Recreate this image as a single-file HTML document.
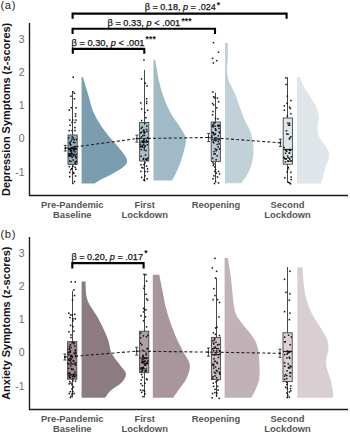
<!DOCTYPE html>
<html><head><meta charset="utf-8"><style>
html,body{margin:0;padding:0;background:#fff;width:350px;height:434px;overflow:hidden}
svg{display:block}
text{font-family:"Liberation Sans",sans-serif}
.tk{font-size:10.5px;fill:#6e6e6e}
.cat{font-size:9.4px;font-weight:bold;fill:#555}
.st{font-size:9.7px;fill:#111;stroke:#111;stroke-width:0.25}
.star{font-size:8.5px;font-weight:bold;fill:#111;letter-spacing:0.15px}
.yl{font-size:10.95px;font-weight:bold;fill:#111}
.pl{font-size:11.2px;fill:#222;letter-spacing:0.7px}
</style></head><body>
<svg width="350" height="434" viewBox="0 0 350 434">
<text x="0.4" y="9.1" class="pl">(a)</text>
<text x="0.4" y="237.8" class="pl">(b)</text>
<text transform="translate(10.1,109.4) rotate(-90)" text-anchor="middle" class="yl">Depression Symptoms (z-scores)</text>
<text transform="translate(10.1,323.2) rotate(-90)" text-anchor="middle" class="yl">Anxiety Symptoms (z-scores)</text>
<path d="M81.6,76.9 L83.0,76.9 C83.5,78.5 84.7,83.1 85.7,86.6 C86.7,90.0 87.8,93.4 89.0,97.6 C90.2,101.8 91.2,106.9 93.2,111.5 C95.2,116.1 97.7,120.7 100.7,125.3 C103.7,129.9 107.8,134.9 111.2,139.1 C114.6,143.2 118.3,146.7 120.9,150.2 C123.5,153.7 126.5,157.1 127.0,159.9 C127.5,162.7 126.0,164.5 123.6,166.8 C121.2,169.1 116.3,171.6 112.6,173.7 C108.9,175.8 104.5,177.6 101.5,179.2 C98.5,180.8 95.8,182.7 94.6,183.4 L81.6,183.4 Z" fill="#7a9db0"/>
<path d="M153.5,59.7 L155.1,59.7 C155.8,63.5 157.8,75.8 159.3,82.3 C160.8,88.8 162.1,93.0 164.1,98.4 C166.1,103.8 168.8,109.7 171.5,114.5 C174.2,119.3 177.9,123.4 180.3,127.4 C182.7,131.4 185.3,134.9 185.9,138.7 C186.5,142.5 185.0,146.0 184.1,150.0 C183.2,154.0 181.8,158.9 180.3,162.9 C178.9,166.9 176.8,171.2 175.4,174.2 C174.1,177.1 172.7,179.5 172.2,180.6 L153.5,180.6 Z" fill="#a0bac7"/>
<path d="M225.0,42.9 L227.9,42.9 C227.9,45.1 228.0,51.8 227.9,56.4 C227.8,61.0 226.9,66.5 227.1,70.7 C227.3,74.9 227.7,77.8 228.9,81.4 C230.1,85.0 232.5,87.9 234.3,92.1 C236.1,96.3 237.8,101.6 239.6,106.4 C241.4,111.2 243.2,116.5 245.0,120.7 C246.8,124.9 249.1,127.8 250.4,131.4 C251.7,135.0 252.4,137.9 252.9,142.1 C253.4,146.3 253.8,151.6 253.2,156.4 C252.6,161.2 251.3,166.2 249.3,170.7 C247.3,175.2 242.7,181.1 241.4,183.2 L225.0,183.2 Z" fill="#c1d1da"/>
<path d="M296.9,76.9 L299.7,76.9 C300.4,78.5 302.0,83.1 303.8,86.6 C305.6,90.0 308.6,94.1 310.7,97.6 C312.8,101.0 314.9,104.1 316.3,107.3 C317.7,110.5 318.8,113.8 319.0,117.0 C319.2,120.2 317.6,123.5 317.6,126.7 C317.6,129.9 317.8,133.4 319.0,136.4 C320.2,139.4 323.0,142.1 324.6,144.6 C326.2,147.1 328.0,149.3 328.7,151.6 C329.4,153.9 329.2,156.0 328.7,158.5 C328.2,161.0 326.5,164.0 325.6,166.8 C324.7,169.6 324.1,172.3 323.3,175.1 C322.5,177.9 321.2,182.0 320.8,183.4 L296.9,183.4 Z" fill="#dee6e9"/>
<path d="M81.6,281.6 L85.5,281.6 C85.7,284.0 85.7,292.1 86.4,296.0 C87.1,299.9 88.0,301.5 89.8,305.0 C91.6,308.5 95.2,313.0 97.5,317.0 C99.8,321.0 101.7,325.0 103.5,329.0 C105.3,333.0 107.2,337.0 108.5,341.0 C109.8,345.0 109.6,348.9 111.5,352.9 C113.4,356.9 117.6,361.4 120.0,364.9 C122.4,368.4 125.8,370.9 126.0,373.9 C126.2,376.9 123.9,380.1 121.4,382.8 C118.9,385.5 113.7,387.8 111.0,390.3 C108.3,392.8 106.0,396.6 105.0,397.8 L81.6,397.8 Z" fill="#8d7b82"/>
<path d="M152.8,274.7 L159.3,274.7 C159.8,277.4 161.4,285.4 162.5,290.8 C163.6,296.2 164.3,301.5 165.7,306.9 C167.0,312.3 168.7,317.6 170.6,323.0 C172.5,328.4 174.8,334.4 177.0,339.2 C179.2,344.0 181.3,347.7 183.5,352.0 C185.7,356.3 189.4,360.7 189.9,365.0 C190.4,369.3 188.3,374.1 186.7,377.9 C185.1,381.7 182.6,384.3 180.3,387.6 C178.1,390.9 174.4,396.1 173.2,397.8 L152.8,397.8 Z" fill="#a9969c"/>
<path d="M224.6,257.9 L227.9,257.9 C228.2,260.1 229.3,266.8 230.0,271.4 C230.7,276.0 231.2,280.3 231.8,285.7 C232.4,291.1 232.9,298.8 233.6,303.6 C234.3,308.4 234.4,310.7 236.0,314.3 C237.6,317.9 240.5,321.4 243.2,325.0 C245.9,328.6 249.6,332.1 252.0,335.7 C254.4,339.3 256.3,342.2 257.5,346.4 C258.7,350.6 259.0,355.3 259.3,360.7 C259.6,366.1 259.9,373.8 259.3,378.6 C258.7,383.4 257.0,386.1 255.7,389.3 C254.4,392.5 252.1,396.4 251.4,397.8 L224.6,397.8 Z" fill="#c0b2b7"/>
<path d="M297.3,267.3 L302.7,267.3 C302.9,270.5 303.3,281.2 304.0,286.7 C304.7,292.1 305.4,295.6 306.7,300.0 C308.0,304.4 309.5,308.9 311.7,313.3 C313.9,317.8 317.4,322.2 320.0,326.7 C322.6,331.1 325.9,336.1 327.3,340.0 C328.7,343.9 328.5,346.7 328.3,350.0 C328.1,353.3 326.2,356.7 326.0,360.0 C325.8,363.3 326.5,366.7 327.3,370.0 C328.1,373.3 329.8,376.4 330.7,380.0 C331.6,383.6 332.5,388.7 332.9,391.7 C333.3,394.7 332.9,396.8 332.9,397.8 L297.3,397.8 Z" fill="#d9ced2"/>
<path d="M29.5,23 V195.5 H348" fill="none" stroke="#1a1a1a" stroke-width="1.4"/>
<text x="24.5" y="42.8" text-anchor="end" class="tk">3</text>
<text x="24.5" y="76.4" text-anchor="end" class="tk">2</text>
<text x="24.5" y="108.8" text-anchor="end" class="tk">1</text>
<text x="24.5" y="142.1" text-anchor="end" class="tk">0</text>
<text x="24.5" y="175.9" text-anchor="end" class="tk">-1</text>
<text x="72.3" y="208.3" text-anchor="middle" class="cat">Pre-Pandemic</text>
<text x="72.3" y="217.5" text-anchor="middle" class="cat">Baseline</text>
<text x="144.7" y="208.3" text-anchor="middle" class="cat">First</text>
<text x="144.7" y="217.5" text-anchor="middle" class="cat">Lockdown</text>
<text x="216" y="208.3" text-anchor="middle" class="cat">Reopening</text>
<text x="287.5" y="208.3" text-anchor="middle" class="cat">Second</text>
<text x="287.5" y="217.5" text-anchor="middle" class="cat">Lockdown</text>
<path d="M29.5,237 V409.5 H348" fill="none" stroke="#1a1a1a" stroke-width="1.4"/>
<text x="24.5" y="256.8" text-anchor="end" class="tk">3</text>
<text x="24.5" y="290.4" text-anchor="end" class="tk">2</text>
<text x="24.5" y="322.8" text-anchor="end" class="tk">1</text>
<text x="24.5" y="356.1" text-anchor="end" class="tk">0</text>
<text x="24.5" y="389.9" text-anchor="end" class="tk">-1</text>
<text x="72.3" y="422.3" text-anchor="middle" class="cat">Pre-Pandemic</text>
<text x="72.3" y="431.5" text-anchor="middle" class="cat">Baseline</text>
<text x="144.7" y="422.3" text-anchor="middle" class="cat">First</text>
<text x="144.7" y="431.5" text-anchor="middle" class="cat">Lockdown</text>
<text x="216" y="422.3" text-anchor="middle" class="cat">Reopening</text>
<text x="287.5" y="422.3" text-anchor="middle" class="cat">Second</text>
<text x="287.5" y="431.5" text-anchor="middle" class="cat">Lockdown</text>
<line x1="72.5" y1="91.5" x2="72.5" y2="183" stroke="#474747" stroke-width="1"/>
<rect x="68.0" y="135" width="9.2" height="29.4" fill="#93afbf" stroke="#444" stroke-width="0.9"/>
<line x1="68.0" y1="148.5" x2="77.2" y2="148.5" stroke="#222" stroke-width="1.2"/>
<line x1="144.5" y1="70" x2="144.5" y2="180.5" stroke="#474747" stroke-width="1"/>
<rect x="139.6" y="122.5" width="9.2" height="38.5" fill="#a8c0cd" stroke="#444" stroke-width="0.9"/>
<line x1="139.6" y1="142" x2="148.8" y2="142" stroke="#222" stroke-width="1.2"/>
<line x1="215.5" y1="92.7" x2="215.5" y2="181.5" stroke="#474747" stroke-width="1"/>
<rect x="211.2" y="122" width="9.2" height="39.6" fill="#b7cbd6" stroke="#444" stroke-width="0.9"/>
<line x1="211.2" y1="139.8" x2="220.4" y2="139.8" stroke="#222" stroke-width="1.2"/>
<line x1="287.5" y1="77.1" x2="287.5" y2="183" stroke="#474747" stroke-width="1"/>
<rect x="283.2" y="118" width="9.2" height="46.2" fill="#dde7ec" stroke="#444" stroke-width="0.9"/>
<line x1="283.2" y1="149.5" x2="292.4" y2="149.5" stroke="#222" stroke-width="1.2"/>
<line x1="72.5" y1="290.8" x2="72.5" y2="397.5" stroke="#474747" stroke-width="1"/>
<rect x="67.6" y="341.7" width="9.2" height="37.5" fill="#a08b93" stroke="#444" stroke-width="0.9"/>
<line x1="67.6" y1="364" x2="76.8" y2="364" stroke="#222" stroke-width="1.2"/>
<line x1="144.5" y1="274.4" x2="144.5" y2="397.5" stroke="#474747" stroke-width="1"/>
<rect x="139.6" y="331.2" width="9.2" height="41.5" fill="#b09ea4" stroke="#444" stroke-width="0.9"/>
<line x1="139.6" y1="358" x2="148.8" y2="358" stroke="#222" stroke-width="1.2"/>
<line x1="216.5" y1="278" x2="216.5" y2="397" stroke="#474747" stroke-width="1"/>
<rect x="211.4" y="337.4" width="9.2" height="42.2" fill="#c8bbc0" stroke="#444" stroke-width="0.9"/>
<line x1="211.4" y1="354.7" x2="220.6" y2="354.7" stroke="#222" stroke-width="1.2"/>
<line x1="287.5" y1="267" x2="287.5" y2="397" stroke="#474747" stroke-width="1"/>
<rect x="283.0" y="332.8" width="9.2" height="48.8" fill="#dcd2d6" stroke="#444" stroke-width="0.9"/>
<line x1="283.0" y1="351.5" x2="292.2" y2="351.5" stroke="#222" stroke-width="1.2"/>
<path d="M65.3,148.2 L136.9,138.6 L208.6,137.5 L280.4,142.8" fill="none" stroke="#222" stroke-width="1.1" stroke-dasharray="3,2.2"/>
<path d="M64.9,357.0 L136.7,351.2 L208.4,352.1 L280.0,353.3" fill="none" stroke="#222" stroke-width="1.1" stroke-dasharray="3,2.2"/>
<rect x="73.0" y="150.0" width="1.5" height="1.5" fill="#111"/>
<rect x="70.8" y="155.8" width="1.5" height="1.5" fill="#111"/>
<rect x="68.2" y="155.4" width="1.5" height="1.5" fill="#111"/>
<rect x="68.7" y="148.8" width="1.5" height="1.5" fill="#111"/>
<rect x="68.9" y="160.2" width="1.5" height="1.5" fill="#111"/>
<rect x="75.3" y="157.2" width="1.5" height="1.5" fill="#111"/>
<rect x="75.6" y="153.7" width="1.5" height="1.5" fill="#111"/>
<rect x="70.2" y="160.7" width="1.5" height="1.5" fill="#111"/>
<rect x="70.4" y="149.5" width="1.5" height="1.5" fill="#111"/>
<rect x="72.5" y="137.3" width="1.5" height="1.5" fill="#111"/>
<rect x="72.2" y="153.4" width="1.5" height="1.5" fill="#111"/>
<rect x="69.6" y="148.6" width="1.5" height="1.5" fill="#111"/>
<rect x="70.4" y="140.5" width="1.5" height="1.5" fill="#111"/>
<rect x="70.3" y="154.6" width="1.5" height="1.5" fill="#111"/>
<rect x="69.9" y="143.9" width="1.5" height="1.5" fill="#111"/>
<rect x="74.8" y="155.7" width="1.5" height="1.5" fill="#111"/>
<rect x="75.6" y="138.7" width="1.5" height="1.5" fill="#111"/>
<rect x="73.9" y="154.1" width="1.5" height="1.5" fill="#111"/>
<rect x="68.3" y="155.1" width="1.5" height="1.5" fill="#111"/>
<rect x="72.4" y="159.3" width="1.5" height="1.5" fill="#111"/>
<rect x="73.4" y="139.0" width="1.5" height="1.5" fill="#111"/>
<rect x="71.5" y="156.5" width="1.5" height="1.5" fill="#111"/>
<rect x="71.6" y="147.0" width="1.5" height="1.5" fill="#111"/>
<rect x="73.4" y="148.7" width="1.5" height="1.5" fill="#111"/>
<rect x="74.4" y="162.7" width="1.5" height="1.5" fill="#111"/>
<rect x="73.2" y="153.6" width="1.5" height="1.5" fill="#111"/>
<rect x="69.3" y="154.7" width="1.5" height="1.5" fill="#111"/>
<rect x="73.9" y="148.6" width="1.5" height="1.5" fill="#111"/>
<rect x="71.0" y="151.5" width="1.5" height="1.5" fill="#111"/>
<rect x="71.5" y="136.1" width="1.5" height="1.5" fill="#111"/>
<rect x="74.3" y="161.1" width="1.5" height="1.5" fill="#111"/>
<rect x="71.2" y="138.6" width="1.5" height="1.5" fill="#111"/>
<rect x="75.4" y="161.1" width="1.5" height="1.5" fill="#111"/>
<rect x="69.8" y="150.4" width="1.5" height="1.5" fill="#111"/>
<rect x="72.5" y="155.1" width="1.5" height="1.5" fill="#111"/>
<rect x="71.2" y="147.8" width="1.5" height="1.5" fill="#111"/>
<rect x="75.4" y="156.3" width="1.5" height="1.5" fill="#111"/>
<rect x="72.8" y="141.6" width="1.5" height="1.5" fill="#111"/>
<rect x="75.0" y="148.6" width="1.5" height="1.5" fill="#111"/>
<rect x="74.2" y="146.2" width="1.5" height="1.5" fill="#111"/>
<rect x="68.8" y="153.8" width="1.5" height="1.5" fill="#111"/>
<rect x="68.5" y="148.7" width="1.5" height="1.5" fill="#111"/>
<rect x="70.6" y="150.2" width="1.5" height="1.5" fill="#111"/>
<rect x="69.1" y="147.8" width="1.5" height="1.5" fill="#111"/>
<rect x="68.1" y="153.2" width="1.5" height="1.5" fill="#111"/>
<rect x="69.1" y="142.8" width="1.5" height="1.5" fill="#111"/>
<rect x="70.8" y="153.0" width="1.5" height="1.5" fill="#111"/>
<rect x="75.7" y="160.6" width="1.5" height="1.5" fill="#111"/>
<rect x="68.6" y="155.1" width="1.5" height="1.5" fill="#111"/>
<rect x="70.0" y="152.9" width="1.5" height="1.5" fill="#111"/>
<rect x="68.1" y="137.1" width="1.5" height="1.5" fill="#111"/>
<rect x="69.1" y="141.8" width="1.5" height="1.5" fill="#111"/>
<rect x="72.1" y="148.2" width="1.5" height="1.5" fill="#111"/>
<rect x="73.4" y="146.0" width="1.5" height="1.5" fill="#111"/>
<rect x="69.3" y="153.3" width="1.5" height="1.5" fill="#111"/>
<rect x="74.0" y="141.8" width="1.5" height="1.5" fill="#111"/>
<rect x="74.3" y="151.1" width="1.5" height="1.5" fill="#111"/>
<rect x="74.2" y="145.9" width="1.5" height="1.5" fill="#111"/>
<rect x="69.7" y="144.4" width="1.5" height="1.5" fill="#111"/>
<rect x="68.2" y="153.1" width="1.5" height="1.5" fill="#111"/>
<rect x="72.5" y="76.5" width="1.5" height="1.5" fill="#111"/>
<rect x="72.2" y="91.0" width="1.5" height="1.5" fill="#111"/>
<rect x="73.7" y="92.5" width="1.5" height="1.5" fill="#111"/>
<rect x="70.2" y="95.5" width="1.5" height="1.5" fill="#111"/>
<rect x="73.7" y="98.0" width="1.5" height="1.5" fill="#111"/>
<rect x="70.5" y="107.0" width="1.5" height="1.5" fill="#111"/>
<rect x="75.3" y="107.0" width="1.5" height="1.5" fill="#111"/>
<rect x="68.5" y="109.3" width="1.5" height="1.5" fill="#111"/>
<rect x="74.8" y="113.2" width="1.5" height="1.5" fill="#111"/>
<rect x="74.8" y="115.5" width="1.5" height="1.5" fill="#111"/>
<rect x="69.0" y="119.3" width="1.5" height="1.5" fill="#111"/>
<rect x="72.0" y="119.3" width="1.5" height="1.5" fill="#111"/>
<rect x="75.3" y="119.3" width="1.5" height="1.5" fill="#111"/>
<rect x="71.3" y="121.7" width="1.5" height="1.5" fill="#111"/>
<rect x="74.2" y="121.7" width="1.5" height="1.5" fill="#111"/>
<rect x="69.3" y="124.5" width="1.5" height="1.5" fill="#111"/>
<rect x="74.2" y="126.8" width="1.5" height="1.5" fill="#111"/>
<rect x="68.5" y="129.8" width="1.5" height="1.5" fill="#111"/>
<rect x="71.3" y="129.8" width="1.5" height="1.5" fill="#111"/>
<rect x="74.2" y="129.8" width="1.5" height="1.5" fill="#111"/>
<rect x="68.5" y="165.9" width="1.5" height="1.5" fill="#111"/>
<rect x="72.2" y="165.6" width="1.5" height="1.5" fill="#111"/>
<rect x="74.5" y="166.7" width="1.5" height="1.5" fill="#111"/>
<rect x="75.2" y="168.6" width="1.5" height="1.5" fill="#111"/>
<rect x="70.0" y="168.9" width="1.5" height="1.5" fill="#111"/>
<rect x="71.0" y="167.8" width="1.5" height="1.5" fill="#111"/>
<rect x="69.0" y="171.6" width="1.5" height="1.5" fill="#111"/>
<rect x="72.7" y="171.8" width="1.5" height="1.5" fill="#111"/>
<rect x="73.0" y="172.7" width="1.5" height="1.5" fill="#111"/>
<rect x="74.8" y="175.2" width="1.5" height="1.5" fill="#111"/>
<rect x="69.0" y="175.9" width="1.5" height="1.5" fill="#111"/>
<rect x="73.8" y="180.8" width="1.5" height="1.5" fill="#111"/>
<rect x="72.2" y="182.7" width="1.5" height="1.5" fill="#111"/>
<rect x="141.6" y="146.3" width="1.5" height="1.5" fill="#111"/>
<rect x="143.0" y="140.4" width="1.5" height="1.5" fill="#111"/>
<rect x="147.0" y="141.0" width="1.5" height="1.5" fill="#111"/>
<rect x="141.3" y="145.3" width="1.5" height="1.5" fill="#111"/>
<rect x="144.4" y="145.0" width="1.5" height="1.5" fill="#111"/>
<rect x="143.3" y="138.3" width="1.5" height="1.5" fill="#111"/>
<rect x="140.2" y="137.5" width="1.5" height="1.5" fill="#111"/>
<rect x="145.7" y="139.6" width="1.5" height="1.5" fill="#111"/>
<rect x="140.9" y="131.5" width="1.5" height="1.5" fill="#111"/>
<rect x="145.8" y="128.8" width="1.5" height="1.5" fill="#111"/>
<rect x="142.7" y="130.0" width="1.5" height="1.5" fill="#111"/>
<rect x="140.9" y="136.1" width="1.5" height="1.5" fill="#111"/>
<rect x="146.6" y="144.0" width="1.5" height="1.5" fill="#111"/>
<rect x="146.0" y="125.3" width="1.5" height="1.5" fill="#111"/>
<rect x="142.3" y="134.8" width="1.5" height="1.5" fill="#111"/>
<rect x="139.7" y="143.6" width="1.5" height="1.5" fill="#111"/>
<rect x="143.7" y="134.7" width="1.5" height="1.5" fill="#111"/>
<rect x="146.3" y="130.7" width="1.5" height="1.5" fill="#111"/>
<rect x="141.5" y="126.5" width="1.5" height="1.5" fill="#111"/>
<rect x="144.1" y="145.6" width="1.5" height="1.5" fill="#111"/>
<rect x="140.6" y="148.9" width="1.5" height="1.5" fill="#111"/>
<rect x="143.1" y="129.2" width="1.5" height="1.5" fill="#111"/>
<rect x="142.8" y="157.7" width="1.5" height="1.5" fill="#111"/>
<rect x="143.7" y="131.9" width="1.5" height="1.5" fill="#111"/>
<rect x="143.0" y="141.6" width="1.5" height="1.5" fill="#111"/>
<rect x="145.8" y="141.3" width="1.5" height="1.5" fill="#111"/>
<rect x="145.2" y="149.9" width="1.5" height="1.5" fill="#111"/>
<rect x="143.6" y="147.2" width="1.5" height="1.5" fill="#111"/>
<rect x="140.4" y="155.5" width="1.5" height="1.5" fill="#111"/>
<rect x="141.7" y="145.8" width="1.5" height="1.5" fill="#111"/>
<rect x="143.9" y="132.0" width="1.5" height="1.5" fill="#111"/>
<rect x="143.0" y="139.6" width="1.5" height="1.5" fill="#111"/>
<rect x="143.5" y="132.0" width="1.5" height="1.5" fill="#111"/>
<rect x="143.7" y="131.0" width="1.5" height="1.5" fill="#111"/>
<rect x="145.0" y="158.4" width="1.5" height="1.5" fill="#111"/>
<rect x="141.6" y="140.2" width="1.5" height="1.5" fill="#111"/>
<rect x="146.1" y="158.4" width="1.5" height="1.5" fill="#111"/>
<rect x="143.0" y="143.5" width="1.5" height="1.5" fill="#111"/>
<rect x="140.1" y="145.6" width="1.5" height="1.5" fill="#111"/>
<rect x="146.5" y="137.2" width="1.5" height="1.5" fill="#111"/>
<rect x="144.7" y="154.3" width="1.5" height="1.5" fill="#111"/>
<rect x="147.1" y="157.3" width="1.5" height="1.5" fill="#111"/>
<rect x="142.7" y="158.6" width="1.5" height="1.5" fill="#111"/>
<rect x="146.0" y="159.3" width="1.5" height="1.5" fill="#111"/>
<rect x="143.6" y="149.1" width="1.5" height="1.5" fill="#111"/>
<rect x="142.0" y="144.8" width="1.5" height="1.5" fill="#111"/>
<rect x="143.9" y="122.9" width="1.5" height="1.5" fill="#111"/>
<rect x="142.1" y="141.6" width="1.5" height="1.5" fill="#111"/>
<rect x="140.1" y="132.1" width="1.5" height="1.5" fill="#111"/>
<rect x="147.1" y="137.3" width="1.5" height="1.5" fill="#111"/>
<rect x="139.9" y="146.1" width="1.5" height="1.5" fill="#111"/>
<rect x="140.6" y="127.6" width="1.5" height="1.5" fill="#111"/>
<rect x="143.2" y="59.2" width="1.5" height="1.5" fill="#111"/>
<rect x="140.8" y="78.2" width="1.5" height="1.5" fill="#111"/>
<rect x="144.6" y="82.5" width="1.5" height="1.5" fill="#111"/>
<rect x="146.4" y="85.2" width="1.5" height="1.5" fill="#111"/>
<rect x="145.9" y="98.0" width="1.5" height="1.5" fill="#111"/>
<rect x="140.1" y="102.2" width="1.5" height="1.5" fill="#111"/>
<rect x="145.9" y="100.8" width="1.5" height="1.5" fill="#111"/>
<rect x="145.9" y="102.7" width="1.5" height="1.5" fill="#111"/>
<rect x="140.9" y="108.3" width="1.5" height="1.5" fill="#111"/>
<rect x="146.8" y="109.5" width="1.5" height="1.5" fill="#111"/>
<rect x="144.2" y="111.8" width="1.5" height="1.5" fill="#111"/>
<rect x="145.1" y="117.0" width="1.5" height="1.5" fill="#111"/>
<rect x="140.9" y="119.8" width="1.5" height="1.5" fill="#111"/>
<rect x="140.2" y="163.9" width="1.5" height="1.5" fill="#111"/>
<rect x="143.2" y="163.9" width="1.5" height="1.5" fill="#111"/>
<rect x="144.2" y="162.1" width="1.5" height="1.5" fill="#111"/>
<rect x="145.8" y="165.4" width="1.5" height="1.5" fill="#111"/>
<rect x="141.2" y="166.8" width="1.5" height="1.5" fill="#111"/>
<rect x="142.3" y="167.2" width="1.5" height="1.5" fill="#111"/>
<rect x="146.8" y="168.1" width="1.5" height="1.5" fill="#111"/>
<rect x="140.1" y="170.7" width="1.5" height="1.5" fill="#111"/>
<rect x="144.2" y="170.8" width="1.5" height="1.5" fill="#111"/>
<rect x="146.8" y="170.8" width="1.5" height="1.5" fill="#111"/>
<rect x="144.2" y="175.1" width="1.5" height="1.5" fill="#111"/>
<rect x="140.9" y="176.6" width="1.5" height="1.5" fill="#111"/>
<rect x="146.4" y="178.1" width="1.5" height="1.5" fill="#111"/>
<rect x="143.2" y="179.2" width="1.5" height="1.5" fill="#111"/>
<rect x="143.8" y="179.9" width="1.5" height="1.5" fill="#111"/>
<rect x="218.3" y="138.1" width="1.5" height="1.5" fill="#111"/>
<rect x="213.2" y="153.2" width="1.5" height="1.5" fill="#111"/>
<rect x="218.3" y="127.7" width="1.5" height="1.5" fill="#111"/>
<rect x="216.6" y="143.7" width="1.5" height="1.5" fill="#111"/>
<rect x="211.6" y="125.4" width="1.5" height="1.5" fill="#111"/>
<rect x="214.5" y="148.2" width="1.5" height="1.5" fill="#111"/>
<rect x="218.5" y="124.8" width="1.5" height="1.5" fill="#111"/>
<rect x="217.4" y="146.2" width="1.5" height="1.5" fill="#111"/>
<rect x="217.8" y="125.2" width="1.5" height="1.5" fill="#111"/>
<rect x="217.9" y="124.6" width="1.5" height="1.5" fill="#111"/>
<rect x="213.8" y="139.3" width="1.5" height="1.5" fill="#111"/>
<rect x="218.4" y="143.1" width="1.5" height="1.5" fill="#111"/>
<rect x="212.2" y="132.2" width="1.5" height="1.5" fill="#111"/>
<rect x="213.0" y="142.1" width="1.5" height="1.5" fill="#111"/>
<rect x="212.4" y="126.2" width="1.5" height="1.5" fill="#111"/>
<rect x="212.7" y="124.0" width="1.5" height="1.5" fill="#111"/>
<rect x="213.5" y="133.9" width="1.5" height="1.5" fill="#111"/>
<rect x="213.4" y="150.9" width="1.5" height="1.5" fill="#111"/>
<rect x="212.5" y="141.1" width="1.5" height="1.5" fill="#111"/>
<rect x="211.3" y="135.2" width="1.5" height="1.5" fill="#111"/>
<rect x="211.3" y="131.6" width="1.5" height="1.5" fill="#111"/>
<rect x="215.4" y="149.9" width="1.5" height="1.5" fill="#111"/>
<rect x="214.9" y="129.2" width="1.5" height="1.5" fill="#111"/>
<rect x="212.0" y="157.6" width="1.5" height="1.5" fill="#111"/>
<rect x="214.5" y="153.2" width="1.5" height="1.5" fill="#111"/>
<rect x="217.7" y="140.9" width="1.5" height="1.5" fill="#111"/>
<rect x="215.1" y="137.0" width="1.5" height="1.5" fill="#111"/>
<rect x="218.8" y="148.2" width="1.5" height="1.5" fill="#111"/>
<rect x="217.6" y="135.1" width="1.5" height="1.5" fill="#111"/>
<rect x="216.1" y="148.9" width="1.5" height="1.5" fill="#111"/>
<rect x="213.9" y="137.4" width="1.5" height="1.5" fill="#111"/>
<rect x="212.2" y="124.1" width="1.5" height="1.5" fill="#111"/>
<rect x="216.9" y="124.7" width="1.5" height="1.5" fill="#111"/>
<rect x="212.4" y="131.8" width="1.5" height="1.5" fill="#111"/>
<rect x="217.7" y="125.3" width="1.5" height="1.5" fill="#111"/>
<rect x="216.4" y="155.1" width="1.5" height="1.5" fill="#111"/>
<rect x="213.0" y="132.8" width="1.5" height="1.5" fill="#111"/>
<rect x="214.7" y="133.2" width="1.5" height="1.5" fill="#111"/>
<rect x="214.6" y="128.0" width="1.5" height="1.5" fill="#111"/>
<rect x="218.7" y="132.1" width="1.5" height="1.5" fill="#111"/>
<rect x="215.4" y="159.0" width="1.5" height="1.5" fill="#111"/>
<rect x="218.7" y="131.3" width="1.5" height="1.5" fill="#111"/>
<rect x="213.9" y="133.8" width="1.5" height="1.5" fill="#111"/>
<rect x="214.1" y="122.1" width="1.5" height="1.5" fill="#111"/>
<rect x="215.1" y="140.1" width="1.5" height="1.5" fill="#111"/>
<rect x="215.1" y="129.7" width="1.5" height="1.5" fill="#111"/>
<rect x="213.2" y="122.2" width="1.5" height="1.5" fill="#111"/>
<rect x="214.3" y="125.5" width="1.5" height="1.5" fill="#111"/>
<rect x="212.7" y="41.9" width="1.5" height="1.5" fill="#111"/>
<rect x="217.8" y="51.5" width="1.5" height="1.5" fill="#111"/>
<rect x="211.8" y="57.6" width="1.5" height="1.5" fill="#111"/>
<rect x="215.9" y="59.9" width="1.5" height="1.5" fill="#111"/>
<rect x="212.7" y="62.2" width="1.5" height="1.5" fill="#111"/>
<rect x="212.2" y="91.3" width="1.5" height="1.5" fill="#111"/>
<rect x="212.9" y="96.0" width="1.5" height="1.5" fill="#111"/>
<rect x="213.8" y="97.0" width="1.5" height="1.5" fill="#111"/>
<rect x="216.7" y="97.3" width="1.5" height="1.5" fill="#111"/>
<rect x="217.9" y="101.0" width="1.5" height="1.5" fill="#111"/>
<rect x="211.8" y="102.8" width="1.5" height="1.5" fill="#111"/>
<rect x="212.9" y="104.2" width="1.5" height="1.5" fill="#111"/>
<rect x="215.9" y="107.0" width="1.5" height="1.5" fill="#111"/>
<rect x="212.1" y="110.8" width="1.5" height="1.5" fill="#111"/>
<rect x="211.8" y="114.0" width="1.5" height="1.5" fill="#111"/>
<rect x="214.8" y="117.7" width="1.5" height="1.5" fill="#111"/>
<rect x="217.1" y="118.2" width="1.5" height="1.5" fill="#111"/>
<rect x="212.2" y="162.1" width="1.5" height="1.5" fill="#111"/>
<rect x="213.2" y="163.2" width="1.5" height="1.5" fill="#111"/>
<rect x="212.6" y="164.7" width="1.5" height="1.5" fill="#111"/>
<rect x="214.1" y="166.2" width="1.5" height="1.5" fill="#111"/>
<rect x="214.8" y="168.8" width="1.5" height="1.5" fill="#111"/>
<rect x="214.1" y="170.7" width="1.5" height="1.5" fill="#111"/>
<rect x="217.8" y="170.7" width="1.5" height="1.5" fill="#111"/>
<rect x="215.6" y="172.4" width="1.5" height="1.5" fill="#111"/>
<rect x="218.8" y="173.2" width="1.5" height="1.5" fill="#111"/>
<rect x="213.2" y="175.1" width="1.5" height="1.5" fill="#111"/>
<rect x="216.7" y="176.2" width="1.5" height="1.5" fill="#111"/>
<rect x="212.2" y="178.1" width="1.5" height="1.5" fill="#111"/>
<rect x="214.8" y="181.1" width="1.5" height="1.5" fill="#111"/>
<rect x="217.8" y="182.2" width="1.5" height="1.5" fill="#111"/>
<rect x="213.7" y="182.8" width="1.5" height="1.5" fill="#111"/>
<rect x="285.5" y="149.1" width="1.5" height="1.5" fill="#111"/>
<rect x="287.3" y="156.9" width="1.5" height="1.5" fill="#111"/>
<rect x="288.7" y="138.2" width="1.5" height="1.5" fill="#111"/>
<rect x="285.7" y="130.0" width="1.5" height="1.5" fill="#111"/>
<rect x="288.8" y="122.6" width="1.5" height="1.5" fill="#111"/>
<rect x="289.7" y="149.4" width="1.5" height="1.5" fill="#111"/>
<rect x="288.9" y="137.3" width="1.5" height="1.5" fill="#111"/>
<rect x="287.2" y="122.3" width="1.5" height="1.5" fill="#111"/>
<rect x="289.4" y="160.4" width="1.5" height="1.5" fill="#111"/>
<rect x="290.1" y="136.0" width="1.5" height="1.5" fill="#111"/>
<rect x="284.9" y="158.4" width="1.5" height="1.5" fill="#111"/>
<rect x="286.0" y="150.6" width="1.5" height="1.5" fill="#111"/>
<rect x="287.5" y="160.4" width="1.5" height="1.5" fill="#111"/>
<rect x="288.5" y="157.5" width="1.5" height="1.5" fill="#111"/>
<rect x="289.4" y="148.8" width="1.5" height="1.5" fill="#111"/>
<rect x="287.3" y="133.5" width="1.5" height="1.5" fill="#111"/>
<rect x="288.9" y="149.7" width="1.5" height="1.5" fill="#111"/>
<rect x="285.2" y="149.8" width="1.5" height="1.5" fill="#111"/>
<rect x="288.9" y="124.4" width="1.5" height="1.5" fill="#111"/>
<rect x="286.1" y="133.2" width="1.5" height="1.5" fill="#111"/>
<rect x="289.1" y="158.3" width="1.5" height="1.5" fill="#111"/>
<rect x="283.8" y="157.7" width="1.5" height="1.5" fill="#111"/>
<rect x="288.9" y="152.3" width="1.5" height="1.5" fill="#111"/>
<rect x="283.2" y="156.6" width="1.5" height="1.5" fill="#111"/>
<rect x="288.4" y="152.5" width="1.5" height="1.5" fill="#111"/>
<rect x="285.4" y="158.1" width="1.5" height="1.5" fill="#111"/>
<rect x="286.8" y="155.2" width="1.5" height="1.5" fill="#111"/>
<rect x="284.7" y="161.2" width="1.5" height="1.5" fill="#111"/>
<rect x="283.3" y="146.8" width="1.5" height="1.5" fill="#111"/>
<rect x="290.7" y="160.1" width="1.5" height="1.5" fill="#111"/>
<rect x="284.8" y="152.5" width="1.5" height="1.5" fill="#111"/>
<rect x="287.7" y="124.5" width="1.5" height="1.5" fill="#111"/>
<rect x="290.6" y="156.0" width="1.5" height="1.5" fill="#111"/>
<rect x="287.1" y="160.2" width="1.5" height="1.5" fill="#111"/>
<rect x="285.1" y="77.2" width="1.5" height="1.5" fill="#111"/>
<rect x="285.4" y="83.7" width="1.5" height="1.5" fill="#111"/>
<rect x="286.6" y="95.5" width="1.5" height="1.5" fill="#111"/>
<rect x="290.2" y="99.8" width="1.5" height="1.5" fill="#111"/>
<rect x="286.2" y="102.7" width="1.5" height="1.5" fill="#111"/>
<rect x="283.6" y="105.2" width="1.5" height="1.5" fill="#111"/>
<rect x="288.9" y="106.3" width="1.5" height="1.5" fill="#111"/>
<rect x="289.6" y="107.8" width="1.5" height="1.5" fill="#111"/>
<rect x="283.6" y="109.5" width="1.5" height="1.5" fill="#111"/>
<rect x="290.1" y="113.0" width="1.5" height="1.5" fill="#111"/>
<rect x="286.6" y="115.3" width="1.5" height="1.5" fill="#111"/>
<rect x="287.6" y="166.7" width="1.5" height="1.5" fill="#111"/>
<rect x="287.1" y="168.2" width="1.5" height="1.5" fill="#111"/>
<rect x="286.4" y="171.2" width="1.5" height="1.5" fill="#111"/>
<rect x="290.1" y="171.6" width="1.5" height="1.5" fill="#111"/>
<rect x="284.1" y="177.1" width="1.5" height="1.5" fill="#111"/>
<rect x="290.4" y="176.3" width="1.5" height="1.5" fill="#111"/>
<rect x="290.4" y="178.9" width="1.5" height="1.5" fill="#111"/>
<rect x="287.9" y="181.6" width="1.5" height="1.5" fill="#111"/>
<rect x="289.8" y="183.1" width="1.5" height="1.5" fill="#111"/>
<rect x="288.8" y="182.2" width="1.5" height="1.5" fill="#111"/>
<rect x="73.0" y="373.6" width="1.5" height="1.5" fill="#111"/>
<rect x="74.6" y="350.1" width="1.5" height="1.5" fill="#111"/>
<rect x="67.7" y="359.2" width="1.5" height="1.5" fill="#111"/>
<rect x="71.4" y="341.9" width="1.5" height="1.5" fill="#111"/>
<rect x="69.9" y="357.9" width="1.5" height="1.5" fill="#111"/>
<rect x="70.2" y="346.8" width="1.5" height="1.5" fill="#111"/>
<rect x="74.1" y="353.1" width="1.5" height="1.5" fill="#111"/>
<rect x="73.4" y="341.8" width="1.5" height="1.5" fill="#111"/>
<rect x="68.5" y="371.9" width="1.5" height="1.5" fill="#111"/>
<rect x="73.1" y="375.0" width="1.5" height="1.5" fill="#111"/>
<rect x="69.8" y="374.1" width="1.5" height="1.5" fill="#111"/>
<rect x="70.6" y="355.1" width="1.5" height="1.5" fill="#111"/>
<rect x="72.1" y="377.6" width="1.5" height="1.5" fill="#111"/>
<rect x="70.9" y="354.7" width="1.5" height="1.5" fill="#111"/>
<rect x="67.9" y="351.6" width="1.5" height="1.5" fill="#111"/>
<rect x="74.1" y="345.4" width="1.5" height="1.5" fill="#111"/>
<rect x="74.8" y="352.0" width="1.5" height="1.5" fill="#111"/>
<rect x="69.6" y="350.7" width="1.5" height="1.5" fill="#111"/>
<rect x="69.0" y="360.1" width="1.5" height="1.5" fill="#111"/>
<rect x="75.0" y="355.2" width="1.5" height="1.5" fill="#111"/>
<rect x="73.9" y="373.5" width="1.5" height="1.5" fill="#111"/>
<rect x="74.7" y="364.4" width="1.5" height="1.5" fill="#111"/>
<rect x="71.8" y="375.5" width="1.5" height="1.5" fill="#111"/>
<rect x="67.9" y="367.6" width="1.5" height="1.5" fill="#111"/>
<rect x="71.1" y="368.0" width="1.5" height="1.5" fill="#111"/>
<rect x="72.6" y="368.8" width="1.5" height="1.5" fill="#111"/>
<rect x="67.9" y="352.0" width="1.5" height="1.5" fill="#111"/>
<rect x="68.5" y="375.0" width="1.5" height="1.5" fill="#111"/>
<rect x="70.2" y="358.7" width="1.5" height="1.5" fill="#111"/>
<rect x="73.3" y="352.4" width="1.5" height="1.5" fill="#111"/>
<rect x="69.6" y="376.8" width="1.5" height="1.5" fill="#111"/>
<rect x="69.9" y="365.3" width="1.5" height="1.5" fill="#111"/>
<rect x="70.6" y="361.8" width="1.5" height="1.5" fill="#111"/>
<rect x="68.8" y="347.8" width="1.5" height="1.5" fill="#111"/>
<rect x="74.6" y="349.2" width="1.5" height="1.5" fill="#111"/>
<rect x="69.3" y="359.6" width="1.5" height="1.5" fill="#111"/>
<rect x="75.3" y="374.3" width="1.5" height="1.5" fill="#111"/>
<rect x="68.6" y="357.9" width="1.5" height="1.5" fill="#111"/>
<rect x="68.3" y="348.7" width="1.5" height="1.5" fill="#111"/>
<rect x="68.3" y="354.0" width="1.5" height="1.5" fill="#111"/>
<rect x="69.6" y="350.3" width="1.5" height="1.5" fill="#111"/>
<rect x="74.5" y="362.2" width="1.5" height="1.5" fill="#111"/>
<rect x="70.8" y="368.7" width="1.5" height="1.5" fill="#111"/>
<rect x="71.6" y="356.6" width="1.5" height="1.5" fill="#111"/>
<rect x="70.2" y="355.3" width="1.5" height="1.5" fill="#111"/>
<rect x="69.7" y="344.0" width="1.5" height="1.5" fill="#111"/>
<rect x="68.5" y="376.5" width="1.5" height="1.5" fill="#111"/>
<rect x="72.5" y="359.8" width="1.5" height="1.5" fill="#111"/>
<rect x="69.2" y="372.7" width="1.5" height="1.5" fill="#111"/>
<rect x="69.5" y="351.5" width="1.5" height="1.5" fill="#111"/>
<rect x="71.0" y="356.1" width="1.5" height="1.5" fill="#111"/>
<rect x="74.2" y="376.0" width="1.5" height="1.5" fill="#111"/>
<rect x="67.7" y="373.1" width="1.5" height="1.5" fill="#111"/>
<rect x="73.1" y="342.9" width="1.5" height="1.5" fill="#111"/>
<rect x="71.2" y="373.9" width="1.5" height="1.5" fill="#111"/>
<rect x="67.6" y="362.8" width="1.5" height="1.5" fill="#111"/>
<rect x="74.8" y="355.8" width="1.5" height="1.5" fill="#111"/>
<rect x="74.2" y="371.4" width="1.5" height="1.5" fill="#111"/>
<rect x="69.5" y="376.7" width="1.5" height="1.5" fill="#111"/>
<rect x="68.8" y="345.7" width="1.5" height="1.5" fill="#111"/>
<rect x="72.9" y="360.5" width="1.5" height="1.5" fill="#111"/>
<rect x="73.2" y="375.5" width="1.5" height="1.5" fill="#111"/>
<rect x="70.5" y="281.1" width="1.5" height="1.5" fill="#111"/>
<rect x="74.5" y="281.1" width="1.5" height="1.5" fill="#111"/>
<rect x="73.2" y="289.2" width="1.5" height="1.5" fill="#111"/>
<rect x="73.7" y="294.8" width="1.5" height="1.5" fill="#111"/>
<rect x="71.8" y="299.1" width="1.5" height="1.5" fill="#111"/>
<rect x="68.0" y="312.4" width="1.5" height="1.5" fill="#111"/>
<rect x="69.8" y="314.2" width="1.5" height="1.5" fill="#111"/>
<rect x="71.5" y="314.2" width="1.5" height="1.5" fill="#111"/>
<rect x="74.0" y="313.6" width="1.5" height="1.5" fill="#111"/>
<rect x="69.2" y="316.9" width="1.5" height="1.5" fill="#111"/>
<rect x="72.2" y="318.1" width="1.5" height="1.5" fill="#111"/>
<rect x="74.5" y="318.1" width="1.5" height="1.5" fill="#111"/>
<rect x="72.2" y="320.1" width="1.5" height="1.5" fill="#111"/>
<rect x="69.8" y="324.6" width="1.5" height="1.5" fill="#111"/>
<rect x="72.2" y="325.9" width="1.5" height="1.5" fill="#111"/>
<rect x="68.2" y="331.1" width="1.5" height="1.5" fill="#111"/>
<rect x="73.2" y="330.4" width="1.5" height="1.5" fill="#111"/>
<rect x="70.2" y="334.2" width="1.5" height="1.5" fill="#111"/>
<rect x="70.2" y="336.8" width="1.5" height="1.5" fill="#111"/>
<rect x="69.0" y="380.9" width="1.5" height="1.5" fill="#111"/>
<rect x="72.2" y="380.1" width="1.5" height="1.5" fill="#111"/>
<rect x="74.8" y="380.4" width="1.5" height="1.5" fill="#111"/>
<rect x="70.3" y="382.4" width="1.5" height="1.5" fill="#111"/>
<rect x="68.5" y="383.1" width="1.5" height="1.5" fill="#111"/>
<rect x="71.2" y="384.1" width="1.5" height="1.5" fill="#111"/>
<rect x="72.7" y="386.4" width="1.5" height="1.5" fill="#111"/>
<rect x="71.2" y="388.2" width="1.5" height="1.5" fill="#111"/>
<rect x="69.7" y="390.9" width="1.5" height="1.5" fill="#111"/>
<rect x="72.2" y="390.9" width="1.5" height="1.5" fill="#111"/>
<rect x="68.5" y="392.8" width="1.5" height="1.5" fill="#111"/>
<rect x="73.3" y="392.8" width="1.5" height="1.5" fill="#111"/>
<rect x="71.2" y="393.4" width="1.5" height="1.5" fill="#111"/>
<rect x="70.3" y="395.4" width="1.5" height="1.5" fill="#111"/>
<rect x="69.7" y="396.8" width="1.5" height="1.5" fill="#111"/>
<rect x="143.1" y="367.9" width="1.5" height="1.5" fill="#111"/>
<rect x="145.7" y="357.8" width="1.5" height="1.5" fill="#111"/>
<rect x="144.6" y="370.0" width="1.5" height="1.5" fill="#111"/>
<rect x="141.5" y="359.0" width="1.5" height="1.5" fill="#111"/>
<rect x="140.4" y="367.0" width="1.5" height="1.5" fill="#111"/>
<rect x="144.1" y="364.5" width="1.5" height="1.5" fill="#111"/>
<rect x="144.2" y="360.4" width="1.5" height="1.5" fill="#111"/>
<rect x="143.1" y="361.4" width="1.5" height="1.5" fill="#111"/>
<rect x="146.4" y="348.0" width="1.5" height="1.5" fill="#111"/>
<rect x="141.5" y="360.5" width="1.5" height="1.5" fill="#111"/>
<rect x="141.9" y="349.6" width="1.5" height="1.5" fill="#111"/>
<rect x="144.8" y="364.2" width="1.5" height="1.5" fill="#111"/>
<rect x="144.8" y="360.8" width="1.5" height="1.5" fill="#111"/>
<rect x="139.8" y="337.1" width="1.5" height="1.5" fill="#111"/>
<rect x="144.9" y="363.1" width="1.5" height="1.5" fill="#111"/>
<rect x="145.3" y="368.3" width="1.5" height="1.5" fill="#111"/>
<rect x="147.1" y="360.1" width="1.5" height="1.5" fill="#111"/>
<rect x="141.4" y="368.6" width="1.5" height="1.5" fill="#111"/>
<rect x="141.9" y="367.8" width="1.5" height="1.5" fill="#111"/>
<rect x="141.0" y="344.1" width="1.5" height="1.5" fill="#111"/>
<rect x="144.7" y="363.0" width="1.5" height="1.5" fill="#111"/>
<rect x="142.6" y="335.1" width="1.5" height="1.5" fill="#111"/>
<rect x="140.7" y="370.8" width="1.5" height="1.5" fill="#111"/>
<rect x="142.6" y="358.1" width="1.5" height="1.5" fill="#111"/>
<rect x="145.3" y="354.2" width="1.5" height="1.5" fill="#111"/>
<rect x="142.1" y="355.5" width="1.5" height="1.5" fill="#111"/>
<rect x="145.4" y="370.3" width="1.5" height="1.5" fill="#111"/>
<rect x="142.5" y="366.5" width="1.5" height="1.5" fill="#111"/>
<rect x="140.9" y="361.9" width="1.5" height="1.5" fill="#111"/>
<rect x="142.3" y="361.1" width="1.5" height="1.5" fill="#111"/>
<rect x="147.1" y="334.5" width="1.5" height="1.5" fill="#111"/>
<rect x="146.0" y="362.2" width="1.5" height="1.5" fill="#111"/>
<rect x="139.9" y="342.5" width="1.5" height="1.5" fill="#111"/>
<rect x="146.7" y="362.4" width="1.5" height="1.5" fill="#111"/>
<rect x="146.5" y="362.3" width="1.5" height="1.5" fill="#111"/>
<rect x="145.9" y="363.0" width="1.5" height="1.5" fill="#111"/>
<rect x="139.8" y="332.3" width="1.5" height="1.5" fill="#111"/>
<rect x="141.6" y="370.0" width="1.5" height="1.5" fill="#111"/>
<rect x="142.2" y="354.6" width="1.5" height="1.5" fill="#111"/>
<rect x="144.4" y="370.6" width="1.5" height="1.5" fill="#111"/>
<rect x="142.0" y="367.2" width="1.5" height="1.5" fill="#111"/>
<rect x="145.4" y="357.3" width="1.5" height="1.5" fill="#111"/>
<rect x="146.9" y="347.7" width="1.5" height="1.5" fill="#111"/>
<rect x="143.3" y="360.5" width="1.5" height="1.5" fill="#111"/>
<rect x="142.6" y="356.1" width="1.5" height="1.5" fill="#111"/>
<rect x="143.4" y="363.2" width="1.5" height="1.5" fill="#111"/>
<rect x="145.8" y="336.0" width="1.5" height="1.5" fill="#111"/>
<rect x="145.6" y="352.6" width="1.5" height="1.5" fill="#111"/>
<rect x="142.0" y="361.8" width="1.5" height="1.5" fill="#111"/>
<rect x="140.2" y="368.1" width="1.5" height="1.5" fill="#111"/>
<rect x="141.5" y="367.7" width="1.5" height="1.5" fill="#111"/>
<rect x="143.9" y="357.7" width="1.5" height="1.5" fill="#111"/>
<rect x="143.3" y="273.6" width="1.5" height="1.5" fill="#111"/>
<rect x="145.2" y="273.9" width="1.5" height="1.5" fill="#111"/>
<rect x="145.8" y="280.4" width="1.5" height="1.5" fill="#111"/>
<rect x="143.8" y="285.1" width="1.5" height="1.5" fill="#111"/>
<rect x="143.1" y="287.6" width="1.5" height="1.5" fill="#111"/>
<rect x="145.2" y="293.6" width="1.5" height="1.5" fill="#111"/>
<rect x="145.9" y="298.1" width="1.5" height="1.5" fill="#111"/>
<rect x="146.8" y="299.4" width="1.5" height="1.5" fill="#111"/>
<rect x="142.8" y="307.6" width="1.5" height="1.5" fill="#111"/>
<rect x="143.8" y="308.8" width="1.5" height="1.5" fill="#111"/>
<rect x="145.2" y="309.1" width="1.5" height="1.5" fill="#111"/>
<rect x="142.8" y="311.2" width="1.5" height="1.5" fill="#111"/>
<rect x="140.3" y="314.9" width="1.5" height="1.5" fill="#111"/>
<rect x="144.8" y="316.1" width="1.5" height="1.5" fill="#111"/>
<rect x="142.8" y="320.1" width="1.5" height="1.5" fill="#111"/>
<rect x="145.8" y="326.1" width="1.5" height="1.5" fill="#111"/>
<rect x="140.9" y="373.8" width="1.5" height="1.5" fill="#111"/>
<rect x="141.7" y="376.4" width="1.5" height="1.5" fill="#111"/>
<rect x="140.6" y="379.2" width="1.5" height="1.5" fill="#111"/>
<rect x="145.8" y="378.1" width="1.5" height="1.5" fill="#111"/>
<rect x="146.4" y="378.9" width="1.5" height="1.5" fill="#111"/>
<rect x="140.2" y="382.9" width="1.5" height="1.5" fill="#111"/>
<rect x="144.2" y="382.6" width="1.5" height="1.5" fill="#111"/>
<rect x="141.7" y="384.9" width="1.5" height="1.5" fill="#111"/>
<rect x="139.8" y="389.4" width="1.5" height="1.5" fill="#111"/>
<rect x="142.3" y="389.6" width="1.5" height="1.5" fill="#111"/>
<rect x="143.8" y="390.4" width="1.5" height="1.5" fill="#111"/>
<rect x="140.9" y="391.6" width="1.5" height="1.5" fill="#111"/>
<rect x="144.2" y="393.1" width="1.5" height="1.5" fill="#111"/>
<rect x="142.3" y="395.9" width="1.5" height="1.5" fill="#111"/>
<rect x="219.0" y="350.7" width="1.5" height="1.5" fill="#111"/>
<rect x="219.1" y="373.3" width="1.5" height="1.5" fill="#111"/>
<rect x="212.0" y="348.2" width="1.5" height="1.5" fill="#111"/>
<rect x="215.2" y="341.4" width="1.5" height="1.5" fill="#111"/>
<rect x="214.8" y="366.3" width="1.5" height="1.5" fill="#111"/>
<rect x="214.6" y="347.0" width="1.5" height="1.5" fill="#111"/>
<rect x="216.6" y="362.6" width="1.5" height="1.5" fill="#111"/>
<rect x="218.0" y="367.8" width="1.5" height="1.5" fill="#111"/>
<rect x="212.3" y="364.4" width="1.5" height="1.5" fill="#111"/>
<rect x="213.6" y="371.6" width="1.5" height="1.5" fill="#111"/>
<rect x="214.3" y="360.5" width="1.5" height="1.5" fill="#111"/>
<rect x="212.9" y="367.4" width="1.5" height="1.5" fill="#111"/>
<rect x="213.3" y="347.5" width="1.5" height="1.5" fill="#111"/>
<rect x="218.2" y="343.7" width="1.5" height="1.5" fill="#111"/>
<rect x="213.9" y="360.9" width="1.5" height="1.5" fill="#111"/>
<rect x="219.1" y="353.5" width="1.5" height="1.5" fill="#111"/>
<rect x="213.2" y="358.0" width="1.5" height="1.5" fill="#111"/>
<rect x="216.4" y="370.3" width="1.5" height="1.5" fill="#111"/>
<rect x="212.1" y="377.7" width="1.5" height="1.5" fill="#111"/>
<rect x="217.7" y="356.7" width="1.5" height="1.5" fill="#111"/>
<rect x="218.5" y="371.6" width="1.5" height="1.5" fill="#111"/>
<rect x="213.6" y="339.1" width="1.5" height="1.5" fill="#111"/>
<rect x="212.8" y="342.3" width="1.5" height="1.5" fill="#111"/>
<rect x="215.9" y="377.0" width="1.5" height="1.5" fill="#111"/>
<rect x="214.3" y="375.2" width="1.5" height="1.5" fill="#111"/>
<rect x="214.9" y="372.6" width="1.5" height="1.5" fill="#111"/>
<rect x="217.4" y="348.0" width="1.5" height="1.5" fill="#111"/>
<rect x="212.2" y="375.8" width="1.5" height="1.5" fill="#111"/>
<rect x="216.2" y="361.7" width="1.5" height="1.5" fill="#111"/>
<rect x="214.2" y="346.3" width="1.5" height="1.5" fill="#111"/>
<rect x="212.9" y="343.2" width="1.5" height="1.5" fill="#111"/>
<rect x="216.0" y="347.8" width="1.5" height="1.5" fill="#111"/>
<rect x="212.9" y="363.9" width="1.5" height="1.5" fill="#111"/>
<rect x="213.9" y="337.9" width="1.5" height="1.5" fill="#111"/>
<rect x="212.8" y="365.0" width="1.5" height="1.5" fill="#111"/>
<rect x="212.9" y="350.1" width="1.5" height="1.5" fill="#111"/>
<rect x="215.6" y="369.7" width="1.5" height="1.5" fill="#111"/>
<rect x="212.1" y="340.0" width="1.5" height="1.5" fill="#111"/>
<rect x="215.6" y="353.5" width="1.5" height="1.5" fill="#111"/>
<rect x="212.1" y="363.4" width="1.5" height="1.5" fill="#111"/>
<rect x="216.8" y="344.1" width="1.5" height="1.5" fill="#111"/>
<rect x="213.6" y="354.1" width="1.5" height="1.5" fill="#111"/>
<rect x="218.8" y="349.9" width="1.5" height="1.5" fill="#111"/>
<rect x="215.8" y="350.1" width="1.5" height="1.5" fill="#111"/>
<rect x="214.6" y="352.0" width="1.5" height="1.5" fill="#111"/>
<rect x="219.1" y="372.5" width="1.5" height="1.5" fill="#111"/>
<rect x="214.2" y="257.6" width="1.5" height="1.5" fill="#111"/>
<rect x="211.6" y="267.1" width="1.5" height="1.5" fill="#111"/>
<rect x="215.8" y="270.6" width="1.5" height="1.5" fill="#111"/>
<rect x="214.8" y="277.4" width="1.5" height="1.5" fill="#111"/>
<rect x="213.1" y="287.9" width="1.5" height="1.5" fill="#111"/>
<rect x="214.2" y="294.8" width="1.5" height="1.5" fill="#111"/>
<rect x="212.3" y="298.9" width="1.5" height="1.5" fill="#111"/>
<rect x="216.8" y="298.9" width="1.5" height="1.5" fill="#111"/>
<rect x="218.8" y="301.8" width="1.5" height="1.5" fill="#111"/>
<rect x="218.2" y="316.2" width="1.5" height="1.5" fill="#111"/>
<rect x="214.8" y="327.2" width="1.5" height="1.5" fill="#111"/>
<rect x="216.2" y="326.6" width="1.5" height="1.5" fill="#111"/>
<rect x="212.6" y="332.1" width="1.5" height="1.5" fill="#111"/>
<rect x="214.7" y="333.6" width="1.5" height="1.5" fill="#111"/>
<rect x="218.7" y="334.8" width="1.5" height="1.5" fill="#111"/>
<rect x="212.6" y="382.4" width="1.5" height="1.5" fill="#111"/>
<rect x="215.2" y="381.1" width="1.5" height="1.5" fill="#111"/>
<rect x="216.9" y="379.8" width="1.5" height="1.5" fill="#111"/>
<rect x="212.9" y="385.6" width="1.5" height="1.5" fill="#111"/>
<rect x="216.9" y="385.6" width="1.5" height="1.5" fill="#111"/>
<rect x="214.3" y="388.6" width="1.5" height="1.5" fill="#111"/>
<rect x="217.3" y="389.4" width="1.5" height="1.5" fill="#111"/>
<rect x="211.8" y="392.8" width="1.5" height="1.5" fill="#111"/>
<rect x="214.1" y="391.9" width="1.5" height="1.5" fill="#111"/>
<rect x="216.2" y="392.4" width="1.5" height="1.5" fill="#111"/>
<rect x="215.8" y="394.9" width="1.5" height="1.5" fill="#111"/>
<rect x="211.4" y="397.1" width="1.5" height="1.5" fill="#111"/>
<rect x="218.4" y="397.6" width="1.5" height="1.5" fill="#111"/>
<rect x="288.6" y="356.5" width="1.5" height="1.5" fill="#111"/>
<rect x="290.0" y="350.9" width="1.5" height="1.5" fill="#111"/>
<rect x="286.1" y="374.8" width="1.5" height="1.5" fill="#111"/>
<rect x="284.2" y="341.1" width="1.5" height="1.5" fill="#111"/>
<rect x="287.9" y="366.9" width="1.5" height="1.5" fill="#111"/>
<rect x="287.8" y="334.4" width="1.5" height="1.5" fill="#111"/>
<rect x="284.1" y="365.5" width="1.5" height="1.5" fill="#111"/>
<rect x="290.2" y="366.0" width="1.5" height="1.5" fill="#111"/>
<rect x="289.2" y="365.1" width="1.5" height="1.5" fill="#111"/>
<rect x="283.9" y="336.4" width="1.5" height="1.5" fill="#111"/>
<rect x="286.7" y="350.3" width="1.5" height="1.5" fill="#111"/>
<rect x="286.0" y="377.9" width="1.5" height="1.5" fill="#111"/>
<rect x="289.4" y="344.0" width="1.5" height="1.5" fill="#111"/>
<rect x="284.7" y="373.8" width="1.5" height="1.5" fill="#111"/>
<rect x="289.4" y="375.5" width="1.5" height="1.5" fill="#111"/>
<rect x="286.1" y="357.1" width="1.5" height="1.5" fill="#111"/>
<rect x="283.9" y="362.0" width="1.5" height="1.5" fill="#111"/>
<rect x="289.9" y="372.0" width="1.5" height="1.5" fill="#111"/>
<rect x="288.9" y="367.2" width="1.5" height="1.5" fill="#111"/>
<rect x="283.9" y="375.3" width="1.5" height="1.5" fill="#111"/>
<rect x="287.8" y="366.9" width="1.5" height="1.5" fill="#111"/>
<rect x="287.5" y="363.1" width="1.5" height="1.5" fill="#111"/>
<rect x="286.4" y="370.1" width="1.5" height="1.5" fill="#111"/>
<rect x="287.8" y="351.4" width="1.5" height="1.5" fill="#111"/>
<rect x="288.9" y="357.6" width="1.5" height="1.5" fill="#111"/>
<rect x="284.4" y="341.1" width="1.5" height="1.5" fill="#111"/>
<rect x="284.0" y="353.9" width="1.5" height="1.5" fill="#111"/>
<rect x="286.4" y="353.4" width="1.5" height="1.5" fill="#111"/>
<rect x="287.9" y="351.9" width="1.5" height="1.5" fill="#111"/>
<rect x="289.0" y="372.2" width="1.5" height="1.5" fill="#111"/>
<rect x="286.9" y="352.3" width="1.5" height="1.5" fill="#111"/>
<rect x="284.0" y="378.6" width="1.5" height="1.5" fill="#111"/>
<rect x="288.7" y="350.7" width="1.5" height="1.5" fill="#111"/>
<rect x="290.6" y="336.3" width="1.5" height="1.5" fill="#111"/>
<rect x="289.2" y="270.6" width="1.5" height="1.5" fill="#111"/>
<rect x="283.8" y="278.6" width="1.5" height="1.5" fill="#111"/>
<rect x="285.2" y="291.6" width="1.5" height="1.5" fill="#111"/>
<rect x="289.2" y="293.1" width="1.5" height="1.5" fill="#111"/>
<rect x="288.6" y="299.6" width="1.5" height="1.5" fill="#111"/>
<rect x="283.8" y="310.9" width="1.5" height="1.5" fill="#111"/>
<rect x="289.2" y="312.4" width="1.5" height="1.5" fill="#111"/>
<rect x="288.6" y="318.9" width="1.5" height="1.5" fill="#111"/>
<rect x="286.1" y="381.6" width="1.5" height="1.5" fill="#111"/>
<rect x="286.1" y="383.8" width="1.5" height="1.5" fill="#111"/>
<rect x="290.1" y="385.2" width="1.5" height="1.5" fill="#111"/>
<rect x="284.9" y="386.4" width="1.5" height="1.5" fill="#111"/>
<rect x="286.4" y="387.6" width="1.5" height="1.5" fill="#111"/>
<rect x="289.8" y="387.9" width="1.5" height="1.5" fill="#111"/>
<rect x="290.1" y="390.1" width="1.5" height="1.5" fill="#111"/>
<rect x="288.6" y="391.2" width="1.5" height="1.5" fill="#111"/>
<rect x="286.1" y="392.4" width="1.5" height="1.5" fill="#111"/>
<rect x="287.1" y="394.6" width="1.5" height="1.5" fill="#111"/>
<rect x="286.4" y="396.8" width="1.5" height="1.5" fill="#111"/>
<rect x="288.6" y="396.4" width="1.5" height="1.5" fill="#111"/>
<path d="M63.8,145.39999999999998 H66.8 M65.3,145.39999999999998 V151.0 M63.8,151.0 H66.8" stroke="#222" stroke-width="0.85" fill="none"/>
<circle cx="65.3" cy="148.2" r="0.95" fill="#111"/>
<path d="M135.4,135.1 H138.4 M136.9,135.1 V142.1 M135.4,142.1 H138.4" stroke="#222" stroke-width="0.85" fill="none"/>
<circle cx="136.9" cy="138.6" r="0.95" fill="#111"/>
<path d="M207.1,133.4 H210.1 M208.6,133.4 V141.6 M207.1,141.6 H210.1" stroke="#222" stroke-width="0.85" fill="none"/>
<circle cx="208.6" cy="137.5" r="0.95" fill="#111"/>
<path d="M278.9,139.20000000000002 H281.9 M280.4,139.20000000000002 V146.4 M278.9,146.4 H281.9" stroke="#222" stroke-width="0.85" fill="none"/>
<circle cx="280.4" cy="142.8" r="0.95" fill="#111"/>
<path d="M63.400000000000006,354 H66.4 M64.9,354 V360 M63.400000000000006,360 H66.4" stroke="#222" stroke-width="0.85" fill="none"/>
<circle cx="64.9" cy="357" r="0.95" fill="#111"/>
<path d="M135.2,347.3 H138.2 M136.7,347.3 V355.09999999999997 M135.2,355.09999999999997 H138.2" stroke="#222" stroke-width="0.85" fill="none"/>
<circle cx="136.7" cy="351.2" r="0.95" fill="#111"/>
<path d="M206.9,348.0 H209.9 M208.4,348.0 V356.20000000000005 M206.9,356.20000000000005 H209.9" stroke="#222" stroke-width="0.85" fill="none"/>
<circle cx="208.4" cy="352.1" r="0.95" fill="#111"/>
<path d="M278.5,349.2 H281.5 M280,349.2 V357.40000000000003 M278.5,357.40000000000003 H281.5" stroke="#222" stroke-width="0.85" fill="none"/>
<circle cx="280" cy="353.3" r="0.95" fill="#111"/>
<path d="M72.6,18.8 V13.6 H286.6 V18.8" fill="none" stroke="#000" stroke-width="2.1"/>
<path d="M72.6,34 V28.7 H215 V34" fill="none" stroke="#000" stroke-width="2.1"/>
<path d="M72.8,53.8 V48.9 H144.3 V53.8" fill="none" stroke="#000" stroke-width="2.1"/>
<path d="M72.3,268.4 V263.1 H143.6 V268.4" fill="none" stroke="#000" stroke-width="2.1"/>
<text x="144.8" y="10.2" class="st" textLength="71.1" lengthAdjust="spacingAndGlyphs">β = 0.18, <tspan font-style="italic">p</tspan> = .024</text>
<text x="216.8" y="7.6" class="star">*</text>
<text x="107.5" y="25.8" class="st" textLength="72.7" lengthAdjust="spacingAndGlyphs">β = 0.33, <tspan font-style="italic">p</tspan> &lt; .001</text>
<text x="181.4" y="24.2" class="star">***</text>
<text x="71.5" y="45.8" class="st" textLength="73.0" lengthAdjust="spacingAndGlyphs">β = 0.30, <tspan font-style="italic">p</tspan> &lt; .001</text>
<text x="145.6" y="42.2" class="star">***</text>
<text x="71.4" y="260.2" class="st" textLength="71.6" lengthAdjust="spacingAndGlyphs">β = 0.20, <tspan font-style="italic">p</tspan> = .017</text>
<text x="144.2" y="256.4" class="star">*</text>

</svg>
</body></html>
